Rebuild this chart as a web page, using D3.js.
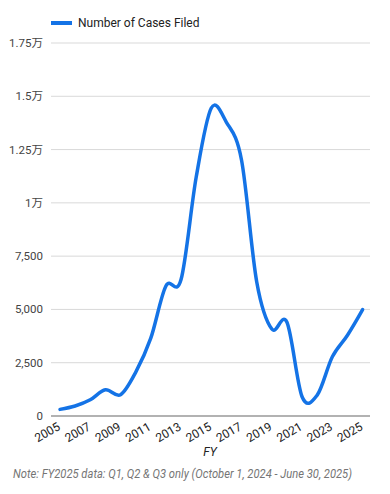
<!DOCTYPE html>
<html><head><meta charset="utf-8">
<script src="https://cdn.jsdelivr.net/npm/d3@7"></script>
<style>body{margin:0;background:#fff;font-family:Roboto,"Noto Sans CJK SC",sans-serif}</style>
</head><body><svg id="c" width="390" height="494"></svg>
<script>
const years = [2005,2006,2007,2008,2009,2010,2011,2012,2013,2014,2015,2016,2017,2018,2019,2020,2021,2022,2023,2024,2025];
const cases = [310,470,760,1230,1000,2050,3650,6100,6400,11200,14450,13780,12000,6300,4080,4400,905,980,2780,3790,4990];
const yTicks = [0,2500,5000,7500,10000,12500,15000,17500];
const yTickLabels = ["0","2,500","5,000","7,500","1万","1.25万","1.5万","1.75万"];
const xTicks = [2005,2007,2009,2011,2013,2015,2017,2019,2021,2023,2025];
const seriesName = "Number of Cases Filed";
const note = "Note: FY2025 data: Q1, Q2 & Q3 only (October 1, 2024 - June 30, 2025)";

const svg = d3.select("#c");
const x = d3.scaleLinear().domain([2005,2025]).range([60,362.6]);
const y = d3.scaleLinear().domain([0,17500]).range([416,43]);
const blue = "#1473e6";

svg.append("g").selectAll("line").data(yTicks.slice(1)).join("line")
  .attr("x1",51).attr("x2",370).attr("y1",d=>y(d)).attr("y2",d=>y(d))
  .attr("stroke","#d9d9d9").attr("stroke-width",1);
svg.append("g").selectAll("text").data(yTicks).join("text")
  .attr("x",43).attr("y",d=>y(d)).attr("dy","0.35em").attr("text-anchor","end")
  .attr("font-size",11.5).attr("fill","#444").text((d,i)=>yTickLabels[i]);
svg.append("line").attr("x1",51).attr("x2",370).attr("y1",y(0)).attr("y2",y(0))
  .attr("stroke","#666").attr("stroke-width",1.2);
svg.append("g").selectAll("text").data(xTicks).join("text")
  .attr("transform",d=>`translate(${x(d)+1},${y(0)+13}) rotate(-30)`)
  .attr("text-anchor","end").attr("font-size",12).attr("fill","#222").text(d=>d);
const line = d3.line().x((d,i)=>x(years[i])).y(d=>y(d)).curve(d3.curveCardinal.tension(0));
svg.append("path").datum(cases).attr("d",line).attr("fill","none")
  .attr("stroke",blue).attr("stroke-width",3.5).attr("stroke-linecap","round").attr("stroke-linejoin","round");
svg.append("line").attr("x1",51).attr("x2",72).attr("y1",23).attr("y2",23).attr("stroke",blue).attr("stroke-width",4);
svg.append("text").attr("x",78).attr("y",23).attr("dy","0.35em").attr("font-size",12).attr("fill","#222").text(seriesName);
svg.append("text").attr("x",210).attr("y",456).attr("text-anchor","middle").attr("font-size",12)
  .attr("font-style","italic").attr("fill","#222").text("FY");
svg.append("text").attr("x",13).attr("y",478).attr("font-size",12.3).attr("font-style","italic")
  .attr("textLength",339).attr("lengthAdjust","spacingAndGlyphs")
  .attr("fill","#757575").text(note);
</script></body></html>
